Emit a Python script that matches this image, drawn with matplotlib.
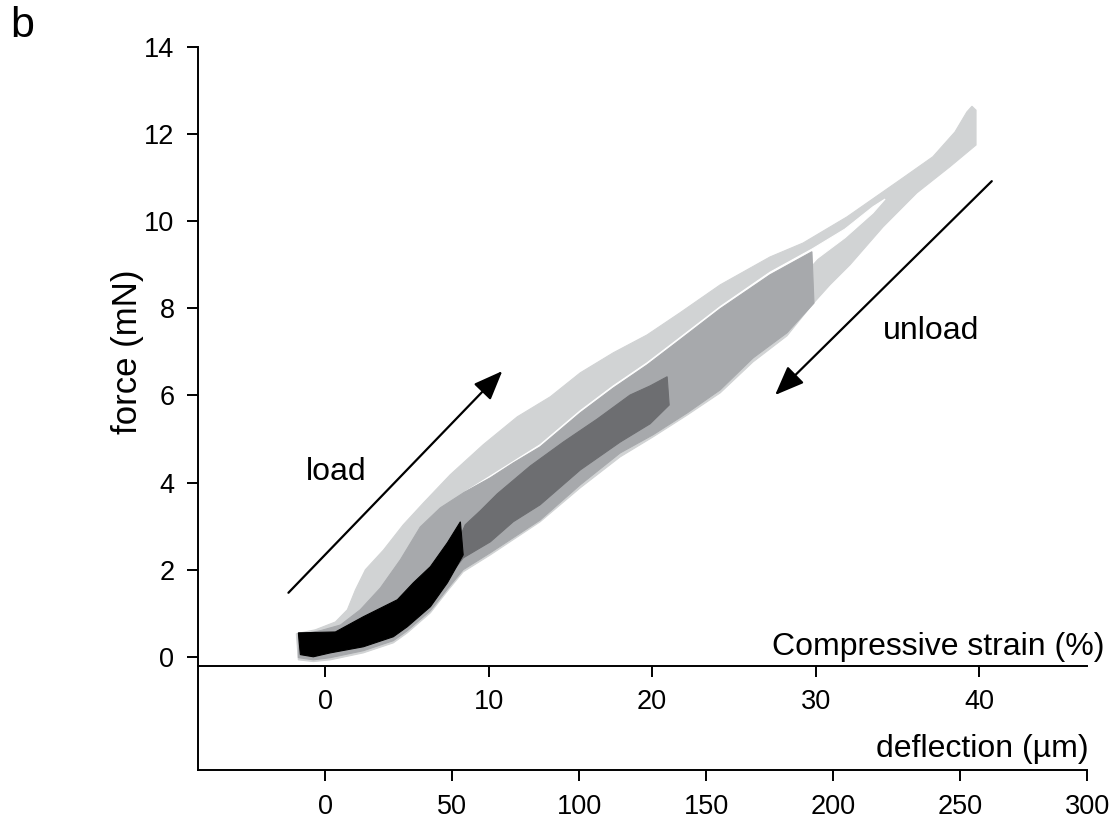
import matplotlib
matplotlib.use("Agg")
import matplotlib.pyplot as plt

plt.rcParams['font.family'] = ['Liberation Sans', 'DejaVu Sans']

# strain (%) = deflection (um) / UM_PER_PCT
UM_PER_PCT = 6.44

# light grey cycles (~40 % strain): outer outline, loading top then unloading bottom
light_top_d = [-11.3, -3.8, 4.1, 8.8, 12.0, 15.9, 23.0, 30.8, 38.7, 49.3, 62.3, 75.7, 88.7,
               100.5, 113.5, 126.8, 139.8, 155.6, 175.2, 188.2, 205.5, 226.4, 239.3, 248.0,
               252.7, 254.7, 256.3]
light_top_f = [0.53, 0.62, 0.80, 1.08, 1.54, 2.00, 2.45, 3.03, 3.53, 4.18, 4.87, 5.51, 5.97,
               6.52, 6.98, 7.39, 7.90, 8.54, 9.18, 9.50, 10.10, 10.95, 11.48, 12.05,
               12.51, 12.64, 12.55]
light_bot_d = [256.3, 246.0, 233.0, 219.7, 206.7, 198.8, 191.7, 181.9, 168.5, 155.6, 142.6,
               129.2, 116.2, 100.5, 84.7, 65.1, 54.4, 48.2, 41.5, 32.4, 26.9, 15.1, 2.1, -4.6, -10.5]
light_bot_f = [11.75, 11.25, 10.65, 9.87, 9.00, 8.54, 8.08, 7.37, 6.77, 6.06, 5.55,
               5.05, 4.59, 3.88, 3.10, 2.34, 1.95, 1.51, 1.01, 0.55, 0.32, 0.09, -0.07, -0.11, -0.07]

# empty space between light loading and unloading traces
gap_top_d = [55.2, 65.1, 84.7, 100.5, 113.5, 126.8, 139.8, 155.6, 175.2, 191.7, 204.7, 215.7, 220.5]
gap_top_f = [3.79, 4.15, 4.87, 5.65, 6.22, 6.75, 7.33, 8.04, 8.83, 9.36, 9.82, 10.33, 10.51]
gap_bot_d = [215.7, 204.7, 193.7, 179.2, 147.7, 108.3, 69.0, 55.2]
gap_bot_f = [10.19, 9.62, 9.14, 8.19, 6.59, 4.98, 3.50, 3.50]

# medium grey cycles (~30 % strain)
mid_top_d = [-10.5, -1.8, 6.1, 13.9, 21.8, 29.7, 37.5, 45.4, 55.2, 65.1, 74.1, 84.7, 100.5,
             113.5, 126.8, 139.8, 155.6, 175.2, 191.7]
mid_top_f = [0.50, 0.60, 0.73, 1.08, 1.58, 2.23, 2.98, 3.42, 3.79, 4.11, 4.45, 4.82, 5.60,
             6.17, 6.70, 7.28, 7.99, 8.77, 9.30]
mid_bot_d = [192.5, 181.9, 168.5, 155.6, 142.6, 129.2, 116.2, 100.5, 84.7, 65.1, 54.4, 48.2,
             41.5, 32.4, 26.9, 15.1, 2.1, -4.6, -10.5]
mid_bot_f = [8.12, 7.44, 6.86, 6.13, 5.60, 5.10, 4.68, 3.95, 3.14, 2.39, 2.00, 1.56,
             1.06, 0.60, 0.37, 0.14, -0.02, -0.07, -0.02]

# dark grey cycles (~21 % strain)
dark_top_d = [-9.7, 6.1, 21.8, 37.5, 49.3, 55.2, 61.1, 67.8, 80.8, 93.8, 107.2, 120.1, 128.0, 134.7]
dark_top_f = [0.28, 0.39, 0.85, 1.54, 2.23, 3.03, 3.35, 3.74, 4.38, 4.93, 5.46, 6.01, 6.22, 6.43]
dark_bot_d = [135.5, 128.0, 116.2, 100.5, 84.7, 74.1, 65.1, 54.4, 48.2, 41.5, 32.4, 26.9, 15.1, 2.1, -9.7]
dark_bot_f = [5.78, 5.35, 4.93, 4.29, 3.49, 3.10, 2.64, 2.27, 1.80, 1.25, 0.76, 0.55, 0.27, 0.10, 0.16]

# black cycles (~8.5 % strain)
black_top_d = [-10.5, 4.1, 15.1, 28.5, 34.8, 41.5, 48.2, 53.3]
black_top_f = [0.55, 0.57, 0.92, 1.31, 1.70, 2.07, 2.62, 3.10]
black_bot_d = [54.4, 48.2, 41.5, 32.4, 26.9, 15.1, 2.1, -4.6, -9.7]
black_bot_f = [2.34, 1.70, 1.15, 0.69, 0.46, 0.23, 0.09, 0.0, 0.05]

defl_ticks = [0, 50, 100, 150, 200, 250, 300]
strain_ticks = [0, 10, 20, 30, 40]
force_ticks = [0, 2, 4, 6, 8, 10, 12, 14]

load_arrow = ((-14.4, 1.47), (69.8, 6.56))
unload_arrow = ((262.5, 10.92), (177.2, 6.01))

fig = plt.figure(figsize=(11.18, 8.35), dpi=100)
ax = fig.add_axes([0.1771, 0.0778, 0.7952, 0.8659])


def loop(top_d, top_f, bot_d, bot_f, color):
    ax.fill(top_d + bot_d, top_f + bot_f, facecolor=color, edgecolor=color, lw=0.8)


loop(light_top_d, light_top_f, light_bot_d, light_bot_f, '#d1d3d4')
loop(gap_top_d, gap_top_f, gap_bot_d, gap_bot_f, 'white')
loop(mid_top_d, mid_top_f, mid_bot_d, mid_bot_f, '#a7a9ac')
loop(dark_top_d, dark_top_f, dark_bot_d, dark_bot_f, '#6d6e71')
loop(black_top_d, black_top_f, black_bot_d, black_bot_f, '#000000')

ax.set_xlim(-50, 300)
ax.set_ylim(-2.6, 14)
ax.set_xticks(defl_ticks)
ax.set_yticks(force_ticks)
for s in ['top', 'right']:
    ax.spines[s].set_visible(False)
for s in ['left', 'bottom']:
    ax.spines[s].set_linewidth(1.4)
ax.tick_params(direction='out', length=8, width=1.4, labelsize=19.5, pad=9)

# strain axis sits just under zero force
strain_pos = (-0.207 + 2.6) / 16.6
sec = ax.secondary_xaxis(strain_pos, functions=(lambda d: d / UM_PER_PCT,
                                                lambda s: s * UM_PER_PCT))
sec.set_xticks(strain_ticks)
sec.spines['bottom'].set_linewidth(1.4)
sec.tick_params(direction='out', length=8, width=1.4, labelsize=19.5, pad=9)

ax.text(307, 0.05, 'Compressive strain (%)', fontsize=23, ha='right', va='baseline')
ax.text(300.5, -2.3, 'deflection (µm)', fontsize=23, ha='right', va='baseline')
fig.text(127 / 1118, 1 - 352 / 835, 'force (mN)', fontsize=25, rotation=90,
         ha='center', va='center')
fig.text(10 / 1118, 1 - 6 / 835, 'b', fontsize=31, ha='left', va='top')

arrow_style = dict(arrowstyle='-|>,head_length=0.45,head_width=0.18', color='k',
                   lw=1.6, mutation_scale=40, shrinkA=0, shrinkB=0)
ax.annotate('', xy=load_arrow[1], xytext=load_arrow[0], arrowprops=arrow_style)
ax.annotate('', xy=unload_arrow[1], xytext=unload_arrow[0], arrowprops=arrow_style)
ax.text(4.6, 4.25, 'load', fontsize=23, ha='center', va='center')
ax.text(238.6, 7.48, 'unload', fontsize=23, ha='center', va='center')

fig.savefig('out.png', dpi=100)
